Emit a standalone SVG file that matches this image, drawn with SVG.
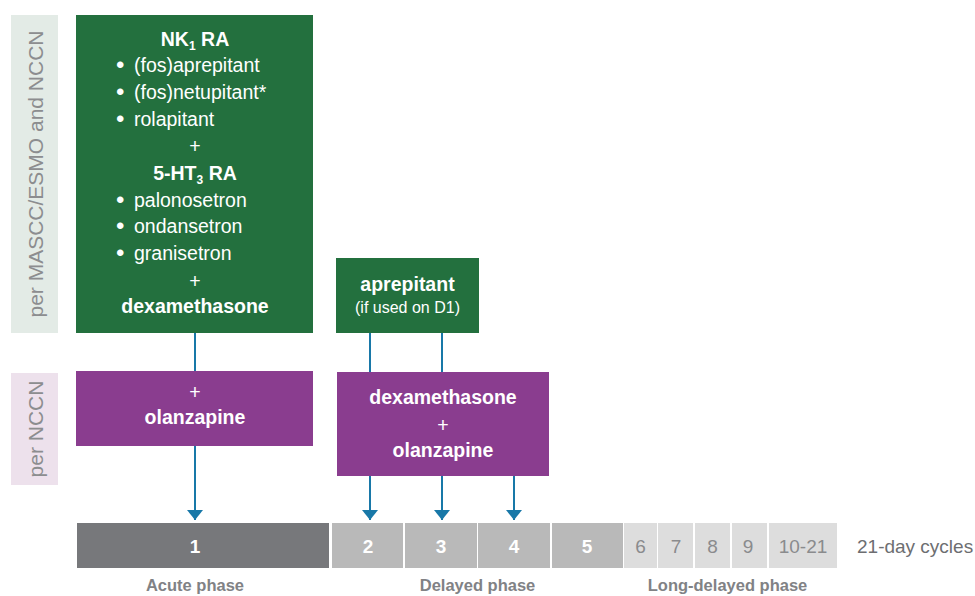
<svg xmlns="http://www.w3.org/2000/svg" width="975" height="596" viewBox="0 0 975 596">
<defs>
<style>
.t{font-family:"Liberation Sans",Arial,sans-serif;}
.w{fill:#ffffff;}
.b{font-weight:bold;}
.c{text-anchor:middle;}
.lab{fill:#8c8d8f;font-size:21px;}
.green{fill:#23703e;}
.purple{fill:#8a3d8f;}
.conn{stroke:#1878a8;stroke-width:2;fill:none;}
.ph{fill:#818285;font-size:16.5px;font-weight:bold;}
.num{font-size:19px;}
.bul{font-size:24px;}
</style>
<marker id="ah" viewBox="0 0 10 16" refX="10" refY="8" markerWidth="10" markerHeight="16" markerUnits="userSpaceOnUse" orient="auto">
<path d="M0,0 L10,8 L0,16 Z" fill="#1878a8"/>
</marker>
</defs>

<g id="label-mascc">
<rect x="11" y="15" width="47" height="318" fill="#e3ebe6"/>
<text class="t lab c" transform="translate(43,174) rotate(-90)">per MASCC/ESMO and NCCN</text>
</g>
<g id="label-nccn">
<rect x="11" y="373" width="47" height="112" fill="#ede1ec"/>
<text class="t lab c" transform="translate(43,429) rotate(-90)">per NCCN</text>
</g>

<g id="connectors">
<line class="conn" x1="195" y1="333" x2="195" y2="371"/>
<line class="conn" x1="195" y1="446" x2="195" y2="520" marker-end="url(#ah)"/>
<line class="conn" x1="370" y1="333" x2="370" y2="372"/>
<line class="conn" x1="442" y1="333" x2="442" y2="372"/>
<line class="conn" x1="370" y1="476" x2="370" y2="520" marker-end="url(#ah)"/>
<line class="conn" x1="442" y1="476" x2="442" y2="520" marker-end="url(#ah)"/>
<line class="conn" x1="514" y1="476" x2="514" y2="520" marker-end="url(#ah)"/>
</g>

<g id="acute-regimen">
<rect class="green" x="76" y="15" width="237" height="318"/>
<g class="t w" font-size="19.5">
<text class="b c" x="195" y="46">NK<tspan font-size="12" dy="4">1</tspan><tspan dy="-4"> RA</tspan></text>
<text class="bul" x="116" y="73">•</text><text x="134" y="72">(fos)aprepitant</text>
<text class="bul" x="116" y="100">•</text><text x="134" y="99">(fos)netupitant*</text>
<text class="bul" x="116" y="127">•</text><text x="134" y="126">rolapitant</text>
<text class="c" x="195" y="153">+</text>
<text class="b c" x="195" y="180">5-HT<tspan font-size="12" dy="4">3</tspan><tspan dy="-4"> RA</tspan></text>
<text class="bul" x="116" y="208">•</text><text x="134" y="207">palonosetron</text>
<text class="bul" x="116" y="234">•</text><text x="134" y="233">ondansetron</text>
<text class="bul" x="116" y="261">•</text><text x="134" y="260">granisetron</text>
<text class="c" x="195" y="288">+</text>
<text class="b c" x="195" y="313">dexamethasone</text>
</g>
</g>

<g id="acute-olanzapine">
<rect class="purple" x="76" y="371" width="237" height="75"/>
<g class="t w c" font-size="19.5">
<text class="c" x="195" y="399">+</text>
<text class="b c" x="195" y="424">olanzapine</text>
</g>
</g>

<g id="delayed-aprepitant">
<rect class="green" x="336" y="258" width="143" height="75"/>
<text class="t w b c" x="407.5" y="291" font-size="19.5">aprepitant</text>
<text class="t w c" x="407.5" y="313" font-size="16">(if used on D1)</text>
</g>

<g id="delayed-dex-olanzapine">
<rect class="purple" x="337" y="372" width="212" height="104"/>
<g class="t w" font-size="19.5">
<text class="b c" x="443" y="404">dexamethasone</text>
<text class="c" x="443" y="432">+</text>
<text class="b c" x="443" y="457">olanzapine</text>
</g>
</g>

<g id="cycles">
<rect x="77" y="523" width="252" height="45" fill="#77787b"/>
<rect x="332" y="523" width="71" height="45" fill="#b9b9b9"/>
<rect x="405" y="523" width="72" height="45" fill="#b9b9b9"/>
<rect x="478" y="523" width="72" height="45" fill="#b9b9b9"/>
<rect x="552" y="523" width="71" height="45" fill="#b9b9b9"/>
<rect x="624" y="523" width="33" height="45" fill="#dddddd"/>
<rect x="658" y="523" width="35" height="45" fill="#dddddd"/>
<rect x="695" y="523" width="35" height="45" fill="#dddddd"/>
<rect x="732" y="523" width="35" height="45" fill="#dddddd"/>
<rect x="769" y="523" width="68" height="45" fill="#dddddd"/>
<g class="t num c b w">
<text class="c" x="195" y="553">1</text>
<text class="c" x="368" y="553">2</text>
<text class="c" x="441" y="553">3</text>
<text class="c" x="514" y="553">4</text>
<text class="c" x="587" y="553">5</text>
</g>
<g class="t num" fill="#8a8b8d">
<text class="c" x="640.5" y="553">6</text>
<text class="c" x="676" y="553">7</text>
<text class="c" x="712.5" y="553">8</text>
<text class="c" x="748" y="553">9</text>
<text class="c" x="803" y="553">10-21</text>
</g>
<text class="t" x="857" y="553" font-size="19" fill="#6d6e71">21-day cycles</text>
<text class="t ph c" x="195" y="591">Acute phase</text>
<text class="t ph c" x="477.5" y="591">Delayed phase</text>
<text class="t ph c" x="727.5" y="591">Long-delayed phase</text>
</g>
</svg>
